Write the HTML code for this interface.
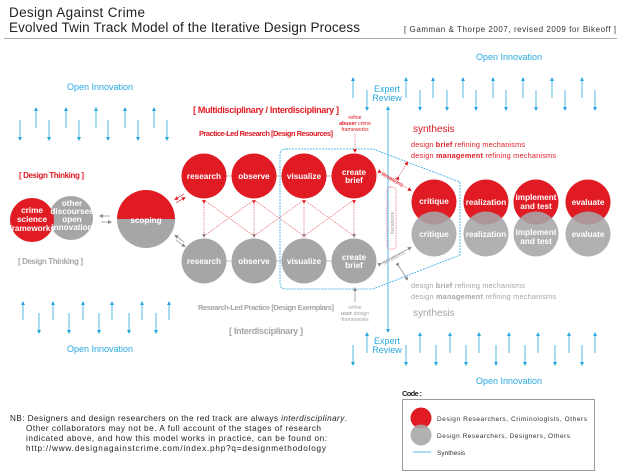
<!DOCTYPE html>
<html><head><meta charset="utf-8"><style>
body{margin:0;background:#fff;overflow:hidden}
svg{display:block;font-family:"Liberation Sans",sans-serif}
.b{fill:#29a8e0;font-size:9px}
.r{fill:#e01b24}
.g{fill:#a6a6a8}
.w{fill:#fff;font-weight:bold;font-size:8.2px;text-anchor:middle}
.ba line{stroke:#29a8e0;stroke-width:0.8;marker-end:url(#ab)}
</style></head><body>
<svg width="618" height="474" viewBox="0 0 618 474">
<defs>
<marker id="ab" markerUnits="userSpaceOnUse" markerWidth="4" markerHeight="4" refX="2" refY="2" orient="auto"><path d="M0,0L4,2L0,4z" fill="#29a8e0"/></marker>
<marker id="ar" markerUnits="userSpaceOnUse" markerWidth="4" markerHeight="4" refX="2" refY="2" orient="auto"><path d="M0,0L4,2L0,4z" fill="#e01b24"/></marker>
<marker id="ag" markerUnits="userSpaceOnUse" markerWidth="4" markerHeight="4" refX="2" refY="2" orient="auto"><path d="M0,0L4,2L0,4z" fill="#888"/></marker>
</defs>
<text x="9" y="17" font-size="13.5" fill="#222" textLength="136">Design Against Crime</text>
<text x="9" y="32" font-size="13.5" fill="#222" textLength="351">Evolved Twin Track Model of the Iterative Design Process</text>
<text x="404" y="32" font-size="8" fill="#333" textLength="212">[ Gamman &amp; Thorpe 2007, revised 2009 for Bikeoff ]</text>
<line x1="4" y1="38.5" x2="617" y2="38.5" stroke="#aaa" stroke-width="1"/>

<g class="ba">
<line x1="36" y1="128" x2="36" y2="109"/><line x1="66" y1="128" x2="66" y2="109"/><line x1="96" y1="128" x2="96" y2="109"/><line x1="125" y1="128" x2="125" y2="109"/><line x1="154" y1="128" x2="154" y2="109"/>
<line x1="20" y1="120" x2="20" y2="139"/><line x1="49" y1="120" x2="49" y2="139"/><line x1="79" y1="120" x2="79" y2="139"/><line x1="108" y1="120" x2="108" y2="139"/><line x1="138" y1="120" x2="138" y2="139"/><line x1="167" y1="120" x2="167" y2="139"/>

<line x1="353" y1="98" x2="353" y2="79"/><line x1="406" y1="98" x2="406" y2="79"/><line x1="433" y1="98" x2="433" y2="79"/><line x1="463" y1="98" x2="463" y2="79"/><line x1="493" y1="98" x2="493" y2="79"/><line x1="523" y1="98" x2="523" y2="79"/><line x1="552" y1="98" x2="552" y2="79"/><line x1="582" y1="98" x2="582" y2="79"/>
<line x1="367" y1="90" x2="367" y2="109"/><line x1="420" y1="90" x2="420" y2="109"/><line x1="447" y1="90" x2="447" y2="109"/><line x1="476" y1="90" x2="476" y2="109"/><line x1="506" y1="90" x2="506" y2="109"/><line x1="536" y1="90" x2="536" y2="109"/><line x1="565" y1="90" x2="565" y2="109"/><line x1="595" y1="90" x2="595" y2="109"/>

<line x1="23" y1="320" x2="23" y2="303"/><line x1="53" y1="320" x2="53" y2="303"/><line x1="83" y1="320" x2="83" y2="303"/><line x1="112" y1="320" x2="112" y2="303"/><line x1="142" y1="320" x2="142" y2="303"/><line x1="169" y1="320" x2="169" y2="303"/>
<line x1="39" y1="313" x2="39" y2="332"/><line x1="69" y1="313" x2="69" y2="332"/><line x1="99" y1="313" x2="99" y2="332"/><line x1="129" y1="313" x2="129" y2="332"/><line x1="156" y1="313" x2="156" y2="332"/>

<line x1="367" y1="353" x2="367" y2="334"/><line x1="420" y1="353" x2="420" y2="334"/><line x1="450" y1="353" x2="450" y2="334"/><line x1="479" y1="353" x2="479" y2="334"/><line x1="509" y1="353" x2="509" y2="334"/><line x1="538" y1="353" x2="538" y2="334"/><line x1="569" y1="353" x2="569" y2="334"/><line x1="595" y1="353" x2="595" y2="334"/>
<line x1="353" y1="345" x2="353" y2="364"/><line x1="406" y1="345" x2="406" y2="364"/><line x1="436" y1="345" x2="436" y2="364"/><line x1="466" y1="345" x2="466" y2="364"/><line x1="496" y1="345" x2="496" y2="364"/><line x1="525" y1="345" x2="525" y2="364"/><line x1="555" y1="345" x2="555" y2="364"/><line x1="582" y1="345" x2="582" y2="364"/>
<line x1="388" y1="120" x2="388" y2="331"/><line x1="388" y1="120" x2="388" y2="108"/>
</g>
<path d="M286,149H373L460,182V255L373,289H286Q280,289 280,283V155Q280,149 286,149Z" stroke="#29a8e0" stroke-width="0.8" fill="none" stroke-dasharray="2,1"/>
<text class="b" x="100" y="90" text-anchor="middle">Open Innovation</text>
<text class="b" x="509" y="60" text-anchor="middle">Open Innovation</text>
<text class="b" x="100" y="352" text-anchor="middle">Open Innovation</text>
<text class="b" x="509" y="384" text-anchor="middle">Open Innovation</text>
<text class="b" x="387" y="92" text-anchor="middle">Expert</text>
<text class="b" x="387" y="101" text-anchor="middle">Review</text>
<text class="b" x="387" y="344" text-anchor="middle">Expert</text>
<text class="b" x="387" y="353" text-anchor="middle">Review</text>

<text x="193" y="113" font-size="9" font-weight="bold" class="r" textLength="146">[ Multidisciplinary / Interdisciplinary ]</text>
<text x="199" y="136" font-size="7.5" font-weight="bold" class="r" textLength="134">Practice-Led Research [Design Resources]</text>
<g font-size="5.3" class="r" text-anchor="middle"><text x="355" y="119">refine</text><text x="355" y="125"><tspan font-weight="bold">abuser</tspan> crime</text><text x="355" y="131">frameworks</text></g>
<g font-size="5.3" class="g" text-anchor="middle"><text x="355" y="309">refine</text><text x="355" y="315"><tspan font-weight="bold">user</tspan> design</text><text x="355" y="321">frameworks</text></g>
<text x="198" y="310" font-size="7.5" font-weight="bold" class="g" textLength="136">Research-Led Practice [Design Exemplars]</text>
<text x="229" y="334" font-size="9" font-weight="bold" class="g" textLength="74">[ Interdisciplinary ]</text>
<text x="19" y="178" font-size="8" font-weight="bold" class="r" textLength="65">[ Design Thinking ]</text>
<text x="18" y="264" font-size="8" font-weight="bold" class="g" textLength="65">[ Design Thinking ]</text>
<text x="413" y="132" font-size="10" class="r">synthesis</text>
<text x="411" y="147" font-size="7.3" class="r" textLength="114">design <tspan font-weight="bold">brief</tspan> refining mechanisms</text>
<text x="411" y="158" font-size="7.3" class="r" textLength="145">design <tspan font-weight="bold">management</tspan> refining mechanisms</text>
<text x="411" y="288" font-size="7.3" class="g" textLength="114">design <tspan font-weight="bold">brief</tspan> refining mechanisms</text>
<text x="411" y="299" font-size="7.3" class="g" textLength="145">design <tspan font-weight="bold">management</tspan> refining mechanisms</text>
<text x="413" y="316" font-size="10" class="g">synthesis</text>

<g stroke="#aaa" stroke-width="0.8"><path d="M226,176H231M276,176H282M326,176H332M226,261H231M276,261H282M326,261H332"/></g>
<g stroke="#e8656b" stroke-width="0.7" stroke-dasharray="1.5,1" fill="none">
<line x1="204" y1="202" x2="204" y2="236" marker-end="url(#ag)" marker-start="url(#ar)"/>
<line x1="254" y1="202" x2="254" y2="236" marker-end="url(#ag)" marker-start="url(#ar)"/>
<line x1="304" y1="202" x2="304" y2="236" marker-end="url(#ag)" marker-start="url(#ar)"/>
<line x1="354" y1="202" x2="354" y2="236" marker-end="url(#ag)" marker-start="url(#ar)"/>
<path d="M204,200L254,236M254,200L204,236M254,200L304,236M304,200L254,236M304,200L354,236M354,200L304,236"/>
<line x1="355" y1="134" x2="355" y2="151" marker-end="url(#ar)"/>
<line x1="380" y1="172" x2="410" y2="190" marker-end="url(#ar)" marker-start="url(#ar)"/>
<line x1="398" y1="178" x2="407" y2="163" marker-end="url(#ar)" marker-start="url(#ar)"/>
</g>
<g stroke="#888" stroke-width="0.7" fill="none">
<line x1="355" y1="302" x2="355" y2="289" marker-end="url(#ag)"/>
<line x1="380" y1="264" x2="410" y2="248" marker-end="url(#ag)" marker-start="url(#ag)"/>
<line x1="398" y1="265" x2="407" y2="279" marker-end="url(#ag)" marker-start="url(#ag)"/>
<line x1="110" y1="216" x2="101" y2="216" marker-end="url(#ag)"/>
<line x1="101" y1="222" x2="110" y2="222" marker-end="url(#ag)"/>
<line x1="176" y1="203" x2="184" y2="198" stroke="#e01b24" marker-end="url(#ar)"/>
<line x1="184" y1="194" x2="176" y2="199" stroke="#e01b24" marker-end="url(#ar)"/>
<line x1="176" y1="240" x2="184" y2="246" marker-end="url(#ag)"/>
<line x1="184" y1="242" x2="176" y2="236" marker-end="url(#ag)"/>
</g>
<rect x="387" y="187" width="9" height="62" rx="3" fill="none" stroke="#e8656b" stroke-width="0.7" stroke-dasharray="1.5,1"/>
<text transform="translate(394,234) rotate(-90)" font-size="5.5" class="g">iterations</text>
<text transform="translate(381,175) rotate(30)" font-size="6" class="r">iterations</text>
<text transform="translate(384,265) rotate(-28)" font-size="6" class="g">iterations</text>

<circle cx="71" cy="218" r="22" fill="#a6a6a8"/>
<circle cx="32" cy="220" r="22" fill="#e01b24"/>
<text class="w" x="32" y="213">crime</text><text class="w" x="32" y="222">science</text><text class="w" x="32" y="231">frameworks</text>
<text class="w" x="72" y="206">other</text><text class="w" x="72" y="214">discourses</text><text class="w" x="72" y="222">open</text><text class="w" x="72" y="230">innovation</text>
<path d="M117,219A29,29 0 0 1 175,219Z" fill="#e01b24"/>
<path d="M117,219A29,29 0 0 0 175,219Z" fill="#a6a6a8"/>
<text class="w" x="146" y="223" font-size="11">scoping</text>

<g fill="#e01b24"><circle cx="204" cy="176" r="22.5"/><circle cx="254" cy="176" r="22.5"/><circle cx="304" cy="176" r="22.5"/><circle cx="354" cy="176" r="22.5"/></g>
<g fill="#a6a6a8"><circle cx="204" cy="261" r="22.5"/><circle cx="254" cy="261" r="22.5"/><circle cx="304" cy="261" r="22.5"/><circle cx="354" cy="261" r="22.5"/></g>
<text class="w" x="204" y="179">research</text><text class="w" x="254" y="179">observe</text><text class="w" x="304" y="179">visualize</text><text class="w" x="354" y="175">create</text><text class="w" x="354" y="183">brief</text>
<text class="w" x="204" y="264">research</text><text class="w" x="254" y="264">observe</text><text class="w" x="304" y="264">visualize</text><text class="w" x="354" y="260">create</text><text class="w" x="354" y="268">brief</text>

<g fill="#e01b24"><circle cx="434" cy="202" r="22.5"/><circle cx="486" cy="202" r="22.5"/><circle cx="536" cy="202" r="22.5"/><circle cx="588" cy="202" r="22.5"/></g>
<g fill="#a6a6a8" fill-opacity="0.88"><circle cx="434" cy="234" r="22.5"/><circle cx="486" cy="234" r="22.5"/><circle cx="536" cy="234" r="22.5"/><circle cx="588" cy="234" r="22.5"/></g>
<text class="w" x="434" y="204">critique</text><text class="w" x="486" y="205">realization</text><text class="w" x="536" y="200">implement</text><text class="w" x="536" y="209">and test</text><text class="w" x="588" y="205">evaluate</text>
<text class="w" x="434" y="237">critique</text><text class="w" x="486" y="237">realization</text><text class="w" x="536" y="235">implement</text><text class="w" x="536" y="244">and test</text><text class="w" x="588" y="237">evaluate</text>

<text x="402" y="396" font-size="7.5" font-weight="bold" fill="#222" textLength="20">Code :</text>
<rect x="402.5" y="399.5" width="192" height="71" fill="#fff" stroke="#999"/>
<circle cx="421" cy="418" r="10.5" fill="#e01b24"/>
<circle cx="421" cy="435" r="10.5" fill="#a6a6a8" fill-opacity="0.88"/>
<line x1="413" y1="452" x2="431" y2="452" stroke="#29a8e0" stroke-width="0.8"/>
<g font-size="6.5" fill="#333"><text x="437" y="421" textLength="150">Design Researchers, Criminologists,  Others</text><text x="437" y="438" textLength="133">Design Researchers, Designers, Others</text><text x="437" y="455">Synthesis</text></g>

<g font-size="8.2" fill="#222"><text x="10" y="421" textLength="337">NB: Designers and design researchers on the red track are always <tspan font-style="italic">interdisciplinary</tspan>.</text>
<text x="26" y="431" textLength="295">Other collaborators may not be. A full account of the stages of research</text>
<text x="26" y="441" textLength="301">indicated above, and how this model works in practice, can be found on:</text>
<text x="26" y="451" textLength="300">http://www.designagainstcrime.com/index.php?q=designmethodology</text></g>
</svg>
</body></html>
